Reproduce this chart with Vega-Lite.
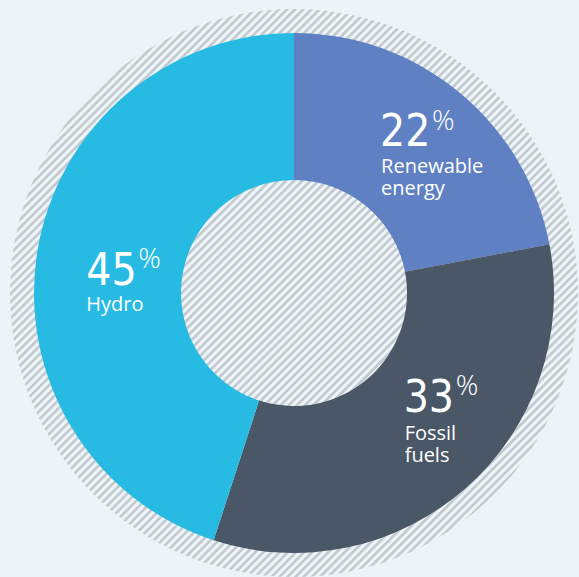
{
"$schema": "https://vega.github.io/schema/vega-lite/v6.json",
"width": 579, "height": 577,
"autosize": {"type": "fit", "contains": "padding"},
"padding": {"left": 9, "top": 9, "right": 0, "bottom": 0},
"background": "#edf4f8",
"config": {"view": {"stroke": null}},
"data": {"values": [
 {"source": "Renewable energy", "pct": 22, "label": "Renewable\nenergy"},
 {"source": "Fossil fuels", "pct": 33, "label": "Fossil\nfuels"},
 {"source": "Hydro", "pct": 45, "label": "Hydro"}
]},
"layer": [
 {"data": {"values": [{"ring": "hatch"}]},
  "mark": {"type": "arc", "theta": 0, "theta2": 6.2832, "innerRadius": 0, "outerRadius": 284,
   "fill": {"gradient": "linear", "x1": 0, "y1": 0, "x2": 1, "y2": 1, "stops": [
{"offset":0.00,"color":"#c3cbd0"},{"offset":0.0025,"color":"#c3cbd0"},{"offset":0.0035,"color":"#edf4f8"},{"offset":0.0065,"color":"#edf4f8"},{"offset":0.00714,"color":"#c3cbd0"},{"offset":0.00964,"color":"#c3cbd0"},{"offset":0.01064,"color":"#edf4f8"},{"offset":0.01364,"color":"#edf4f8"},{"offset":0.01429,"color":"#c3cbd0"},{"offset":0.01679,"color":"#c3cbd0"},{"offset":0.01779,"color":"#edf4f8"},{"offset":0.02079,"color":"#edf4f8"},{"offset":0.02143,"color":"#c3cbd0"},{"offset":0.02393,"color":"#c3cbd0"},{"offset":0.02493,"color":"#edf4f8"},{"offset":0.02793,"color":"#edf4f8"},{"offset":0.02857,"color":"#c3cbd0"},{"offset":0.03107,"color":"#c3cbd0"},{"offset":0.03207,"color":"#edf4f8"},{"offset":0.03507,"color":"#edf4f8"},{"offset":0.03571,"color":"#c3cbd0"},{"offset":0.03821,"color":"#c3cbd0"},{"offset":0.03921,"color":"#edf4f8"},{"offset":0.04221,"color":"#edf4f8"},{"offset":0.04286,"color":"#c3cbd0"},{"offset":0.04536,"color":"#c3cbd0"},{"offset":0.04636,"color":"#edf4f8"},{"offset":0.04936,"color":"#edf4f8"},
{"offset":0.05,"color":"#c3cbd0"},{"offset":0.0525,"color":"#c3cbd0"},{"offset":0.0535,"color":"#edf4f8"},{"offset":0.0565,"color":"#edf4f8"},{"offset":0.05714,"color":"#c3cbd0"},{"offset":0.05964,"color":"#c3cbd0"},{"offset":0.06064,"color":"#edf4f8"},{"offset":0.06364,"color":"#edf4f8"},{"offset":0.06429,"color":"#c3cbd0"},{"offset":0.06679,"color":"#c3cbd0"},{"offset":0.06779,"color":"#edf4f8"},{"offset":0.07079,"color":"#edf4f8"},{"offset":0.07143,"color":"#c3cbd0"},{"offset":0.07393,"color":"#c3cbd0"},{"offset":0.07493,"color":"#edf4f8"},{"offset":0.07793,"color":"#edf4f8"},{"offset":0.07857,"color":"#c3cbd0"},{"offset":0.08107,"color":"#c3cbd0"},{"offset":0.08207,"color":"#edf4f8"},{"offset":0.08507,"color":"#edf4f8"},{"offset":0.08571,"color":"#c3cbd0"},{"offset":0.08821,"color":"#c3cbd0"},{"offset":0.08921,"color":"#edf4f8"},{"offset":0.09221,"color":"#edf4f8"},{"offset":0.09286,"color":"#c3cbd0"},{"offset":0.09536,"color":"#c3cbd0"},{"offset":0.09636,"color":"#edf4f8"},{"offset":0.09936,"color":"#edf4f8"},
{"offset":0.10,"color":"#c3cbd0"},{"offset":0.1025,"color":"#c3cbd0"},{"offset":0.1035,"color":"#edf4f8"},{"offset":0.1065,"color":"#edf4f8"},{"offset":0.10714,"color":"#c3cbd0"},{"offset":0.10964,"color":"#c3cbd0"},{"offset":0.11064,"color":"#edf4f8"},{"offset":0.11364,"color":"#edf4f8"},{"offset":0.11429,"color":"#c3cbd0"},{"offset":0.11679,"color":"#c3cbd0"},{"offset":0.11779,"color":"#edf4f8"},{"offset":0.12079,"color":"#edf4f8"},{"offset":0.12143,"color":"#c3cbd0"},{"offset":0.12393,"color":"#c3cbd0"},{"offset":0.12493,"color":"#edf4f8"},{"offset":0.12793,"color":"#edf4f8"},{"offset":0.12857,"color":"#c3cbd0"},{"offset":0.13107,"color":"#c3cbd0"},{"offset":0.13207,"color":"#edf4f8"},{"offset":0.13507,"color":"#edf4f8"},{"offset":0.13571,"color":"#c3cbd0"},{"offset":0.13821,"color":"#c3cbd0"},{"offset":0.13921,"color":"#edf4f8"},{"offset":0.14221,"color":"#edf4f8"},{"offset":0.14286,"color":"#c3cbd0"},{"offset":0.14536,"color":"#c3cbd0"},{"offset":0.14636,"color":"#edf4f8"},{"offset":0.14936,"color":"#edf4f8"},
{"offset":0.15,"color":"#c3cbd0"},{"offset":0.1525,"color":"#c3cbd0"},{"offset":0.1535,"color":"#edf4f8"},{"offset":0.1565,"color":"#edf4f8"},{"offset":0.15714,"color":"#c3cbd0"},{"offset":0.15964,"color":"#c3cbd0"},{"offset":0.16064,"color":"#edf4f8"},{"offset":0.16364,"color":"#edf4f8"},{"offset":0.16429,"color":"#c3cbd0"},{"offset":0.16679,"color":"#c3cbd0"},{"offset":0.16779,"color":"#edf4f8"},{"offset":0.17079,"color":"#edf4f8"},{"offset":0.17143,"color":"#c3cbd0"},{"offset":0.17393,"color":"#c3cbd0"},{"offset":0.17493,"color":"#edf4f8"},{"offset":0.17793,"color":"#edf4f8"},{"offset":0.17857,"color":"#c3cbd0"},{"offset":0.18107,"color":"#c3cbd0"},{"offset":0.18207,"color":"#edf4f8"},{"offset":0.18507,"color":"#edf4f8"},{"offset":0.18571,"color":"#c3cbd0"},{"offset":0.18821,"color":"#c3cbd0"},{"offset":0.18921,"color":"#edf4f8"},{"offset":0.19221,"color":"#edf4f8"},{"offset":0.19286,"color":"#c3cbd0"},{"offset":0.19536,"color":"#c3cbd0"},{"offset":0.19636,"color":"#edf4f8"},{"offset":0.19936,"color":"#edf4f8"},
{"offset":0.20,"color":"#c3cbd0"},{"offset":0.2025,"color":"#c3cbd0"},{"offset":0.2035,"color":"#edf4f8"},{"offset":0.2065,"color":"#edf4f8"},{"offset":0.20714,"color":"#c3cbd0"},{"offset":0.20964,"color":"#c3cbd0"},{"offset":0.21064,"color":"#edf4f8"},{"offset":0.21364,"color":"#edf4f8"},{"offset":0.21429,"color":"#c3cbd0"},{"offset":0.21679,"color":"#c3cbd0"},{"offset":0.21779,"color":"#edf4f8"},{"offset":0.22079,"color":"#edf4f8"},{"offset":0.22143,"color":"#c3cbd0"},{"offset":0.22393,"color":"#c3cbd0"},{"offset":0.22493,"color":"#edf4f8"},{"offset":0.22793,"color":"#edf4f8"},{"offset":0.22857,"color":"#c3cbd0"},{"offset":0.23107,"color":"#c3cbd0"},{"offset":0.23207,"color":"#edf4f8"},{"offset":0.23507,"color":"#edf4f8"},{"offset":0.23571,"color":"#c3cbd0"},{"offset":0.23821,"color":"#c3cbd0"},{"offset":0.23921,"color":"#edf4f8"},{"offset":0.24221,"color":"#edf4f8"},{"offset":0.24286,"color":"#c3cbd0"},{"offset":0.24536,"color":"#c3cbd0"},{"offset":0.24636,"color":"#edf4f8"},{"offset":0.24936,"color":"#edf4f8"},
{"offset":0.25,"color":"#c3cbd0"},{"offset":0.2525,"color":"#c3cbd0"},{"offset":0.2535,"color":"#edf4f8"},{"offset":0.2565,"color":"#edf4f8"},{"offset":0.25714,"color":"#c3cbd0"},{"offset":0.25964,"color":"#c3cbd0"},{"offset":0.26064,"color":"#edf4f8"},{"offset":0.26364,"color":"#edf4f8"},{"offset":0.26429,"color":"#c3cbd0"},{"offset":0.26679,"color":"#c3cbd0"},{"offset":0.26779,"color":"#edf4f8"},{"offset":0.27079,"color":"#edf4f8"},{"offset":0.27143,"color":"#c3cbd0"},{"offset":0.27393,"color":"#c3cbd0"},{"offset":0.27493,"color":"#edf4f8"},{"offset":0.27793,"color":"#edf4f8"},{"offset":0.27857,"color":"#c3cbd0"},{"offset":0.28107,"color":"#c3cbd0"},{"offset":0.28207,"color":"#edf4f8"},{"offset":0.28507,"color":"#edf4f8"},{"offset":0.28571,"color":"#c3cbd0"},{"offset":0.28821,"color":"#c3cbd0"},{"offset":0.28921,"color":"#edf4f8"},{"offset":0.29221,"color":"#edf4f8"},{"offset":0.29286,"color":"#c3cbd0"},{"offset":0.29536,"color":"#c3cbd0"},{"offset":0.29636,"color":"#edf4f8"},{"offset":0.29936,"color":"#edf4f8"},
{"offset":0.30,"color":"#c3cbd0"},{"offset":0.3025,"color":"#c3cbd0"},{"offset":0.3035,"color":"#edf4f8"},{"offset":0.3065,"color":"#edf4f8"},{"offset":0.30714,"color":"#c3cbd0"},{"offset":0.30964,"color":"#c3cbd0"},{"offset":0.31064,"color":"#edf4f8"},{"offset":0.31364,"color":"#edf4f8"},{"offset":0.31429,"color":"#c3cbd0"},{"offset":0.31679,"color":"#c3cbd0"},{"offset":0.31779,"color":"#edf4f8"},{"offset":0.32079,"color":"#edf4f8"},{"offset":0.32143,"color":"#c3cbd0"},{"offset":0.32393,"color":"#c3cbd0"},{"offset":0.32493,"color":"#edf4f8"},{"offset":0.32793,"color":"#edf4f8"},{"offset":0.32857,"color":"#c3cbd0"},{"offset":0.33107,"color":"#c3cbd0"},{"offset":0.33207,"color":"#edf4f8"},{"offset":0.33507,"color":"#edf4f8"},{"offset":0.33571,"color":"#c3cbd0"},{"offset":0.33821,"color":"#c3cbd0"},{"offset":0.33921,"color":"#edf4f8"},{"offset":0.34221,"color":"#edf4f8"},{"offset":0.34286,"color":"#c3cbd0"},{"offset":0.34536,"color":"#c3cbd0"},{"offset":0.34636,"color":"#edf4f8"},{"offset":0.34936,"color":"#edf4f8"},
{"offset":0.35,"color":"#c3cbd0"},{"offset":0.3525,"color":"#c3cbd0"},{"offset":0.3535,"color":"#edf4f8"},{"offset":0.3565,"color":"#edf4f8"},{"offset":0.35714,"color":"#c3cbd0"},{"offset":0.35964,"color":"#c3cbd0"},{"offset":0.36064,"color":"#edf4f8"},{"offset":0.36364,"color":"#edf4f8"},{"offset":0.36429,"color":"#c3cbd0"},{"offset":0.36679,"color":"#c3cbd0"},{"offset":0.36779,"color":"#edf4f8"},{"offset":0.37079,"color":"#edf4f8"},{"offset":0.37143,"color":"#c3cbd0"},{"offset":0.37393,"color":"#c3cbd0"},{"offset":0.37493,"color":"#edf4f8"},{"offset":0.37793,"color":"#edf4f8"},{"offset":0.37857,"color":"#c3cbd0"},{"offset":0.38107,"color":"#c3cbd0"},{"offset":0.38207,"color":"#edf4f8"},{"offset":0.38507,"color":"#edf4f8"},{"offset":0.38571,"color":"#c3cbd0"},{"offset":0.38821,"color":"#c3cbd0"},{"offset":0.38921,"color":"#edf4f8"},{"offset":0.39221,"color":"#edf4f8"},{"offset":0.39286,"color":"#c3cbd0"},{"offset":0.39536,"color":"#c3cbd0"},{"offset":0.39636,"color":"#edf4f8"},{"offset":0.39936,"color":"#edf4f8"},
{"offset":0.40,"color":"#c3cbd0"},{"offset":0.4025,"color":"#c3cbd0"},{"offset":0.4035,"color":"#edf4f8"},{"offset":0.4065,"color":"#edf4f8"},{"offset":0.40714,"color":"#c3cbd0"},{"offset":0.40964,"color":"#c3cbd0"},{"offset":0.41064,"color":"#edf4f8"},{"offset":0.41364,"color":"#edf4f8"},{"offset":0.41429,"color":"#c3cbd0"},{"offset":0.41679,"color":"#c3cbd0"},{"offset":0.41779,"color":"#edf4f8"},{"offset":0.42079,"color":"#edf4f8"},{"offset":0.42143,"color":"#c3cbd0"},{"offset":0.42393,"color":"#c3cbd0"},{"offset":0.42493,"color":"#edf4f8"},{"offset":0.42793,"color":"#edf4f8"},{"offset":0.42857,"color":"#c3cbd0"},{"offset":0.43107,"color":"#c3cbd0"},{"offset":0.43207,"color":"#edf4f8"},{"offset":0.43507,"color":"#edf4f8"},{"offset":0.43571,"color":"#c3cbd0"},{"offset":0.43821,"color":"#c3cbd0"},{"offset":0.43921,"color":"#edf4f8"},{"offset":0.44221,"color":"#edf4f8"},{"offset":0.44286,"color":"#c3cbd0"},{"offset":0.44536,"color":"#c3cbd0"},{"offset":0.44636,"color":"#edf4f8"},{"offset":0.44936,"color":"#edf4f8"},
{"offset":0.45,"color":"#c3cbd0"},{"offset":0.4525,"color":"#c3cbd0"},{"offset":0.4535,"color":"#edf4f8"},{"offset":0.4565,"color":"#edf4f8"},{"offset":0.45714,"color":"#c3cbd0"},{"offset":0.45964,"color":"#c3cbd0"},{"offset":0.46064,"color":"#edf4f8"},{"offset":0.46364,"color":"#edf4f8"},{"offset":0.46429,"color":"#c3cbd0"},{"offset":0.46679,"color":"#c3cbd0"},{"offset":0.46779,"color":"#edf4f8"},{"offset":0.47079,"color":"#edf4f8"},{"offset":0.47143,"color":"#c3cbd0"},{"offset":0.47393,"color":"#c3cbd0"},{"offset":0.47493,"color":"#edf4f8"},{"offset":0.47793,"color":"#edf4f8"},{"offset":0.47857,"color":"#c3cbd0"},{"offset":0.48107,"color":"#c3cbd0"},{"offset":0.48207,"color":"#edf4f8"},{"offset":0.48507,"color":"#edf4f8"},{"offset":0.48571,"color":"#c3cbd0"},{"offset":0.48821,"color":"#c3cbd0"},{"offset":0.48921,"color":"#edf4f8"},{"offset":0.49221,"color":"#edf4f8"},{"offset":0.49286,"color":"#c3cbd0"},{"offset":0.49536,"color":"#c3cbd0"},{"offset":0.49636,"color":"#edf4f8"},{"offset":0.49936,"color":"#edf4f8"},
{"offset":0.50,"color":"#c3cbd0"},{"offset":0.5025,"color":"#c3cbd0"},{"offset":0.5035,"color":"#edf4f8"},{"offset":0.5065,"color":"#edf4f8"},{"offset":0.50714,"color":"#c3cbd0"},{"offset":0.50964,"color":"#c3cbd0"},{"offset":0.51064,"color":"#edf4f8"},{"offset":0.51364,"color":"#edf4f8"},{"offset":0.51429,"color":"#c3cbd0"},{"offset":0.51679,"color":"#c3cbd0"},{"offset":0.51779,"color":"#edf4f8"},{"offset":0.52079,"color":"#edf4f8"},{"offset":0.52143,"color":"#c3cbd0"},{"offset":0.52393,"color":"#c3cbd0"},{"offset":0.52493,"color":"#edf4f8"},{"offset":0.52793,"color":"#edf4f8"},{"offset":0.52857,"color":"#c3cbd0"},{"offset":0.53107,"color":"#c3cbd0"},{"offset":0.53207,"color":"#edf4f8"},{"offset":0.53507,"color":"#edf4f8"},{"offset":0.53571,"color":"#c3cbd0"},{"offset":0.53821,"color":"#c3cbd0"},{"offset":0.53921,"color":"#edf4f8"},{"offset":0.54221,"color":"#edf4f8"},{"offset":0.54286,"color":"#c3cbd0"},{"offset":0.54536,"color":"#c3cbd0"},{"offset":0.54636,"color":"#edf4f8"},{"offset":0.54936,"color":"#edf4f8"},
{"offset":0.55,"color":"#c3cbd0"},{"offset":0.5525,"color":"#c3cbd0"},{"offset":0.5535,"color":"#edf4f8"},{"offset":0.5565,"color":"#edf4f8"},{"offset":0.55714,"color":"#c3cbd0"},{"offset":0.55964,"color":"#c3cbd0"},{"offset":0.56064,"color":"#edf4f8"},{"offset":0.56364,"color":"#edf4f8"},{"offset":0.56429,"color":"#c3cbd0"},{"offset":0.56679,"color":"#c3cbd0"},{"offset":0.56779,"color":"#edf4f8"},{"offset":0.57079,"color":"#edf4f8"},{"offset":0.57143,"color":"#c3cbd0"},{"offset":0.57393,"color":"#c3cbd0"},{"offset":0.57493,"color":"#edf4f8"},{"offset":0.57793,"color":"#edf4f8"},{"offset":0.57857,"color":"#c3cbd0"},{"offset":0.58107,"color":"#c3cbd0"},{"offset":0.58207,"color":"#edf4f8"},{"offset":0.58507,"color":"#edf4f8"},{"offset":0.58571,"color":"#c3cbd0"},{"offset":0.58821,"color":"#c3cbd0"},{"offset":0.58921,"color":"#edf4f8"},{"offset":0.59221,"color":"#edf4f8"},{"offset":0.59286,"color":"#c3cbd0"},{"offset":0.59536,"color":"#c3cbd0"},{"offset":0.59636,"color":"#edf4f8"},{"offset":0.59936,"color":"#edf4f8"},
{"offset":0.60,"color":"#c3cbd0"},{"offset":0.6025,"color":"#c3cbd0"},{"offset":0.6035,"color":"#edf4f8"},{"offset":0.6065,"color":"#edf4f8"},{"offset":0.60714,"color":"#c3cbd0"},{"offset":0.60964,"color":"#c3cbd0"},{"offset":0.61064,"color":"#edf4f8"},{"offset":0.61364,"color":"#edf4f8"},{"offset":0.61429,"color":"#c3cbd0"},{"offset":0.61679,"color":"#c3cbd0"},{"offset":0.61779,"color":"#edf4f8"},{"offset":0.62079,"color":"#edf4f8"},{"offset":0.62143,"color":"#c3cbd0"},{"offset":0.62393,"color":"#c3cbd0"},{"offset":0.62493,"color":"#edf4f8"},{"offset":0.62793,"color":"#edf4f8"},{"offset":0.62857,"color":"#c3cbd0"},{"offset":0.63107,"color":"#c3cbd0"},{"offset":0.63207,"color":"#edf4f8"},{"offset":0.63507,"color":"#edf4f8"},{"offset":0.63571,"color":"#c3cbd0"},{"offset":0.63821,"color":"#c3cbd0"},{"offset":0.63921,"color":"#edf4f8"},{"offset":0.64221,"color":"#edf4f8"},{"offset":0.64286,"color":"#c3cbd0"},{"offset":0.64536,"color":"#c3cbd0"},{"offset":0.64636,"color":"#edf4f8"},{"offset":0.64936,"color":"#edf4f8"},
{"offset":0.65,"color":"#c3cbd0"},{"offset":0.6525,"color":"#c3cbd0"},{"offset":0.6535,"color":"#edf4f8"},{"offset":0.6565,"color":"#edf4f8"},{"offset":0.65714,"color":"#c3cbd0"},{"offset":0.65964,"color":"#c3cbd0"},{"offset":0.66064,"color":"#edf4f8"},{"offset":0.66364,"color":"#edf4f8"},{"offset":0.66429,"color":"#c3cbd0"},{"offset":0.66679,"color":"#c3cbd0"},{"offset":0.66779,"color":"#edf4f8"},{"offset":0.67079,"color":"#edf4f8"},{"offset":0.67143,"color":"#c3cbd0"},{"offset":0.67393,"color":"#c3cbd0"},{"offset":0.67493,"color":"#edf4f8"},{"offset":0.67793,"color":"#edf4f8"},{"offset":0.67857,"color":"#c3cbd0"},{"offset":0.68107,"color":"#c3cbd0"},{"offset":0.68207,"color":"#edf4f8"},{"offset":0.68507,"color":"#edf4f8"},{"offset":0.68571,"color":"#c3cbd0"},{"offset":0.68821,"color":"#c3cbd0"},{"offset":0.68921,"color":"#edf4f8"},{"offset":0.69221,"color":"#edf4f8"},{"offset":0.69286,"color":"#c3cbd0"},{"offset":0.69536,"color":"#c3cbd0"},{"offset":0.69636,"color":"#edf4f8"},{"offset":0.69936,"color":"#edf4f8"},
{"offset":0.70,"color":"#c3cbd0"},{"offset":0.7025,"color":"#c3cbd0"},{"offset":0.7035,"color":"#edf4f8"},{"offset":0.7065,"color":"#edf4f8"},{"offset":0.70714,"color":"#c3cbd0"},{"offset":0.70964,"color":"#c3cbd0"},{"offset":0.71064,"color":"#edf4f8"},{"offset":0.71364,"color":"#edf4f8"},{"offset":0.71429,"color":"#c3cbd0"},{"offset":0.71679,"color":"#c3cbd0"},{"offset":0.71779,"color":"#edf4f8"},{"offset":0.72079,"color":"#edf4f8"},{"offset":0.72143,"color":"#c3cbd0"},{"offset":0.72393,"color":"#c3cbd0"},{"offset":0.72493,"color":"#edf4f8"},{"offset":0.72793,"color":"#edf4f8"},{"offset":0.72857,"color":"#c3cbd0"},{"offset":0.73107,"color":"#c3cbd0"},{"offset":0.73207,"color":"#edf4f8"},{"offset":0.73507,"color":"#edf4f8"},{"offset":0.73571,"color":"#c3cbd0"},{"offset":0.73821,"color":"#c3cbd0"},{"offset":0.73921,"color":"#edf4f8"},{"offset":0.74221,"color":"#edf4f8"},{"offset":0.74286,"color":"#c3cbd0"},{"offset":0.74536,"color":"#c3cbd0"},{"offset":0.74636,"color":"#edf4f8"},{"offset":0.74936,"color":"#edf4f8"},
{"offset":0.75,"color":"#c3cbd0"},{"offset":0.7525,"color":"#c3cbd0"},{"offset":0.7535,"color":"#edf4f8"},{"offset":0.7565,"color":"#edf4f8"},{"offset":0.75714,"color":"#c3cbd0"},{"offset":0.75964,"color":"#c3cbd0"},{"offset":0.76064,"color":"#edf4f8"},{"offset":0.76364,"color":"#edf4f8"},{"offset":0.76429,"color":"#c3cbd0"},{"offset":0.76679,"color":"#c3cbd0"},{"offset":0.76779,"color":"#edf4f8"},{"offset":0.77079,"color":"#edf4f8"},{"offset":0.77143,"color":"#c3cbd0"},{"offset":0.77393,"color":"#c3cbd0"},{"offset":0.77493,"color":"#edf4f8"},{"offset":0.77793,"color":"#edf4f8"},{"offset":0.77857,"color":"#c3cbd0"},{"offset":0.78107,"color":"#c3cbd0"},{"offset":0.78207,"color":"#edf4f8"},{"offset":0.78507,"color":"#edf4f8"},{"offset":0.78571,"color":"#c3cbd0"},{"offset":0.78821,"color":"#c3cbd0"},{"offset":0.78921,"color":"#edf4f8"},{"offset":0.79221,"color":"#edf4f8"},{"offset":0.79286,"color":"#c3cbd0"},{"offset":0.79536,"color":"#c3cbd0"},{"offset":0.79636,"color":"#edf4f8"},{"offset":0.79936,"color":"#edf4f8"},
{"offset":0.80,"color":"#c3cbd0"},{"offset":0.8025,"color":"#c3cbd0"},{"offset":0.8035,"color":"#edf4f8"},{"offset":0.8065,"color":"#edf4f8"},{"offset":0.80714,"color":"#c3cbd0"},{"offset":0.80964,"color":"#c3cbd0"},{"offset":0.81064,"color":"#edf4f8"},{"offset":0.81364,"color":"#edf4f8"},{"offset":0.81429,"color":"#c3cbd0"},{"offset":0.81679,"color":"#c3cbd0"},{"offset":0.81779,"color":"#edf4f8"},{"offset":0.82079,"color":"#edf4f8"},{"offset":0.82143,"color":"#c3cbd0"},{"offset":0.82393,"color":"#c3cbd0"},{"offset":0.82493,"color":"#edf4f8"},{"offset":0.82793,"color":"#edf4f8"},{"offset":0.82857,"color":"#c3cbd0"},{"offset":0.83107,"color":"#c3cbd0"},{"offset":0.83207,"color":"#edf4f8"},{"offset":0.83507,"color":"#edf4f8"},{"offset":0.83571,"color":"#c3cbd0"},{"offset":0.83821,"color":"#c3cbd0"},{"offset":0.83921,"color":"#edf4f8"},{"offset":0.84221,"color":"#edf4f8"},{"offset":0.84286,"color":"#c3cbd0"},{"offset":0.84536,"color":"#c3cbd0"},{"offset":0.84636,"color":"#edf4f8"},{"offset":0.84936,"color":"#edf4f8"},
{"offset":0.85,"color":"#c3cbd0"},{"offset":0.8525,"color":"#c3cbd0"},{"offset":0.8535,"color":"#edf4f8"},{"offset":0.8565,"color":"#edf4f8"},{"offset":0.85714,"color":"#c3cbd0"},{"offset":0.85964,"color":"#c3cbd0"},{"offset":0.86064,"color":"#edf4f8"},{"offset":0.86364,"color":"#edf4f8"},{"offset":0.86429,"color":"#c3cbd0"},{"offset":0.86679,"color":"#c3cbd0"},{"offset":0.86779,"color":"#edf4f8"},{"offset":0.87079,"color":"#edf4f8"},{"offset":0.87143,"color":"#c3cbd0"},{"offset":0.87393,"color":"#c3cbd0"},{"offset":0.87493,"color":"#edf4f8"},{"offset":0.87793,"color":"#edf4f8"},{"offset":0.87857,"color":"#c3cbd0"},{"offset":0.88107,"color":"#c3cbd0"},{"offset":0.88207,"color":"#edf4f8"},{"offset":0.88507,"color":"#edf4f8"},{"offset":0.88571,"color":"#c3cbd0"},{"offset":0.88821,"color":"#c3cbd0"},{"offset":0.88921,"color":"#edf4f8"},{"offset":0.89221,"color":"#edf4f8"},{"offset":0.89286,"color":"#c3cbd0"},{"offset":0.89536,"color":"#c3cbd0"},{"offset":0.89636,"color":"#edf4f8"},{"offset":0.89936,"color":"#edf4f8"},
{"offset":0.90,"color":"#c3cbd0"},{"offset":0.9025,"color":"#c3cbd0"},{"offset":0.9035,"color":"#edf4f8"},{"offset":0.9065,"color":"#edf4f8"},{"offset":0.90714,"color":"#c3cbd0"},{"offset":0.90964,"color":"#c3cbd0"},{"offset":0.91064,"color":"#edf4f8"},{"offset":0.91364,"color":"#edf4f8"},{"offset":0.91429,"color":"#c3cbd0"},{"offset":0.91679,"color":"#c3cbd0"},{"offset":0.91779,"color":"#edf4f8"},{"offset":0.92079,"color":"#edf4f8"},{"offset":0.92143,"color":"#c3cbd0"},{"offset":0.92393,"color":"#c3cbd0"},{"offset":0.92493,"color":"#edf4f8"},{"offset":0.92793,"color":"#edf4f8"},{"offset":0.92857,"color":"#c3cbd0"},{"offset":0.93107,"color":"#c3cbd0"},{"offset":0.93207,"color":"#edf4f8"},{"offset":0.93507,"color":"#edf4f8"},{"offset":0.93571,"color":"#c3cbd0"},{"offset":0.93821,"color":"#c3cbd0"},{"offset":0.93921,"color":"#edf4f8"},{"offset":0.94221,"color":"#edf4f8"},{"offset":0.94286,"color":"#c3cbd0"},{"offset":0.94536,"color":"#c3cbd0"},{"offset":0.94636,"color":"#edf4f8"},{"offset":0.94936,"color":"#edf4f8"},
{"offset":0.95,"color":"#c3cbd0"},{"offset":0.9525,"color":"#c3cbd0"},{"offset":0.9535,"color":"#edf4f8"},{"offset":0.9565,"color":"#edf4f8"},{"offset":0.95714,"color":"#c3cbd0"},{"offset":0.95964,"color":"#c3cbd0"},{"offset":0.96064,"color":"#edf4f8"},{"offset":0.96364,"color":"#edf4f8"},{"offset":0.96429,"color":"#c3cbd0"},{"offset":0.96679,"color":"#c3cbd0"},{"offset":0.96779,"color":"#edf4f8"},{"offset":0.97079,"color":"#edf4f8"},{"offset":0.97143,"color":"#c3cbd0"},{"offset":0.97393,"color":"#c3cbd0"},{"offset":0.97493,"color":"#edf4f8"},{"offset":0.97793,"color":"#edf4f8"},{"offset":0.97857,"color":"#c3cbd0"},{"offset":0.98107,"color":"#c3cbd0"},{"offset":0.98207,"color":"#edf4f8"},{"offset":0.98507,"color":"#edf4f8"},{"offset":0.98571,"color":"#c3cbd0"},{"offset":0.98821,"color":"#c3cbd0"},{"offset":0.98921,"color":"#edf4f8"},{"offset":0.99221,"color":"#edf4f8"},{"offset":0.99286,"color":"#c3cbd0"},{"offset":0.99536,"color":"#c3cbd0"},{"offset":0.99636,"color":"#edf4f8"},{"offset":1,"color":"#edf4f8"}
   ]}},
  "encoding": {}},
 {"mark": {"type": "arc", "innerRadius": 113, "outerRadius": 260},
  "encoding": {
   "theta": {"field": "pct", "type": "quantitative", "stack": true},
   "order": {"field": "pct", "type": "quantitative", "sort": "ascending"},
   "color": {"field": "source", "type": "nominal", "legend": null,
     "scale": {"domain": ["Renewable energy", "Fossil fuels", "Hydro"], "range": ["#5f80c2", "#4a5767", "#27bbe3"]}}
  }},
 {"mark": {"type": "text", "radius": 190, "align": "left", "baseline": "alphabetic", "dx": -35, "dy": -1, "font": "DejaVu Sans Condensed, Roboto, sans-serif", "fontSize": 44, "color": "#ffffff"},
  "encoding": {"theta": {"field": "pct", "type": "quantitative", "stack": true}, "order": {"field": "pct", "type": "quantitative", "sort": "ascending"}, "detail": {"field": "source"},
   "text": {"condition": {"test": "datum.source === 'Renewable energy'", "field": "pct", "type": "nominal"}, "value": ""}}},
 {"mark": {"type": "text", "radius": 190, "align": "left", "baseline": "alphabetic", "dx": 17, "dy": -17, "font": "Open Sans", "fontWeight": 300, "fontSize": 28, "color": "#ffffff"},
  "encoding": {"theta": {"field": "pct", "type": "quantitative", "stack": true}, "order": {"field": "pct", "type": "quantitative", "sort": "ascending"}, "detail": {"field": "source"},
   "text": {"condition": {"test": "datum.source === 'Renewable energy'", "value": "%"}, "value": ""}}},
 {"mark": {"type": "text", "radius": 190, "align": "left", "baseline": "alphabetic", "dx": -34, "dy": 26, "font": "Open Sans", "fontSize": 20, "lineHeight": 22, "lineBreak": "\n", "color": "#ffffff"},
  "encoding": {"theta": {"field": "pct", "type": "quantitative", "stack": true}, "order": {"field": "pct", "type": "quantitative", "sort": "ascending"}, "detail": {"field": "source"},
   "text": {"condition": {"test": "datum.source === 'Renewable energy'", "field": "label", "type": "nominal"}, "value": ""}}},
 {"mark": {"type": "text", "radius": 190, "align": "left", "baseline": "alphabetic", "dx": -16, "dy": -24, "font": "DejaVu Sans Condensed, Roboto, sans-serif", "fontSize": 44, "color": "#ffffff"},
  "encoding": {"theta": {"field": "pct", "type": "quantitative", "stack": true}, "order": {"field": "pct", "type": "quantitative", "sort": "ascending"}, "detail": {"field": "source"},
   "text": {"condition": {"test": "datum.source === 'Fossil fuels'", "field": "pct", "type": "nominal"}, "value": ""}}},
 {"mark": {"type": "text", "radius": 190, "align": "left", "baseline": "alphabetic", "dx": 36, "dy": -41, "font": "Open Sans", "fontWeight": 300, "fontSize": 28, "color": "#ffffff"},
  "encoding": {"theta": {"field": "pct", "type": "quantitative", "stack": true}, "order": {"field": "pct", "type": "quantitative", "sort": "ascending"}, "detail": {"field": "source"},
   "text": {"condition": {"test": "datum.source === 'Fossil fuels'", "value": "%"}, "value": ""}}},
 {"mark": {"type": "text", "radius": 190, "align": "left", "baseline": "alphabetic", "dx": -15, "dy": 4, "font": "Open Sans", "fontSize": 20, "lineHeight": 22, "lineBreak": "\n", "color": "#ffffff"},
  "encoding": {"theta": {"field": "pct", "type": "quantitative", "stack": true}, "order": {"field": "pct", "type": "quantitative", "sort": "ascending"}, "detail": {"field": "source"},
   "text": {"condition": {"test": "datum.source === 'Fossil fuels'", "field": "label", "type": "nominal"}, "value": ""}}},
 {"mark": {"type": "text", "radius": 190, "align": "left", "baseline": "alphabetic", "dx": -20, "dy": 22, "font": "DejaVu Sans Condensed, Roboto, sans-serif", "fontSize": 44, "color": "#ffffff"},
  "encoding": {"theta": {"field": "pct", "type": "quantitative", "stack": true}, "order": {"field": "pct", "type": "quantitative", "sort": "ascending"}, "detail": {"field": "source"},
   "text": {"condition": {"test": "datum.source === 'Hydro'", "field": "pct", "type": "nominal"}, "value": ""}}},
 {"mark": {"type": "text", "radius": 190, "align": "left", "baseline": "alphabetic", "dx": 32, "dy": 5, "font": "Open Sans", "fontWeight": 300, "fontSize": 28, "color": "#ffffff"},
  "encoding": {"theta": {"field": "pct", "type": "quantitative", "stack": true}, "order": {"field": "pct", "type": "quantitative", "sort": "ascending"}, "detail": {"field": "source"},
   "text": {"condition": {"test": "datum.source === 'Hydro'", "value": "%"}, "value": ""}}},
 {"mark": {"type": "text", "radius": 190, "align": "left", "baseline": "alphabetic", "dx": -20, "dy": 48, "font": "Open Sans", "fontSize": 20, "lineHeight": 22, "lineBreak": "\n", "color": "#ffffff"},
  "encoding": {"theta": {"field": "pct", "type": "quantitative", "stack": true}, "order": {"field": "pct", "type": "quantitative", "sort": "ascending"}, "detail": {"field": "source"},
   "text": {"condition": {"test": "datum.source === 'Hydro'", "field": "label", "type": "nominal"}, "value": ""}}}
]
}
